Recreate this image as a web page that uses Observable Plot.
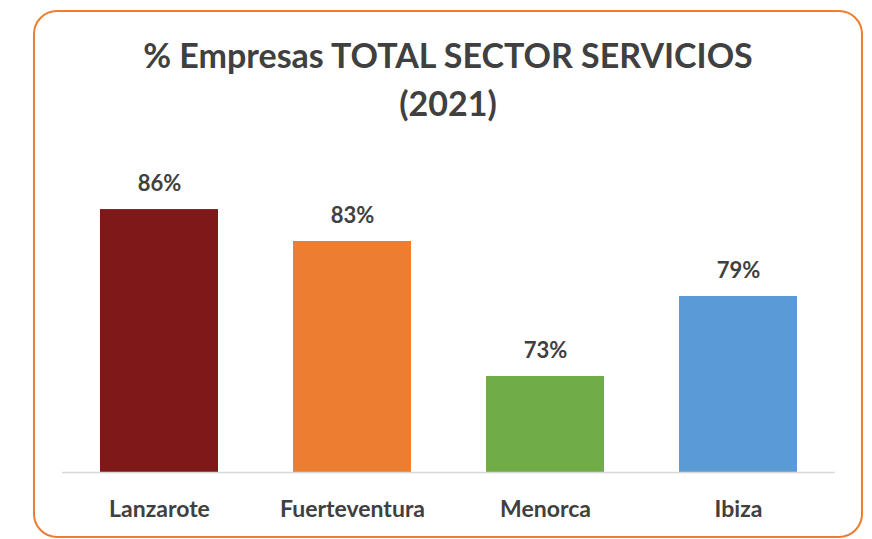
<!DOCTYPE html>
<html>
<head>
<meta charset="utf-8">
<script src="https://cdn.jsdelivr.net/npm/d3@7"></script>
<script src="https://cdn.jsdelivr.net/npm/@observablehq/plot@0.6"></script>
<style>
  html, body { margin: 0; padding: 0; background: #fff; }
  #wrap { position: relative; width: 872px; height: 539px; overflow: hidden; font-family: Lato, "Open Sans", sans-serif; }
  #frame { position: absolute; left: 33px; top: 10px; width: 826px; height: 524px; border: 2px solid #ED7D31; border-radius: 24px; }
  #title { position: absolute; left: 33px; width: 830px; top: 31px; text-align: center; font-weight: bold; font-size: 34px; line-height: 48px; color: #404040; }
  #chart { position: absolute; left: 0; top: 140px; }
</style>
</head>
<body>
<div id="wrap">
  <div id="frame"></div>
  <div id="title">% Empresas TOTAL SECTOR SERVICIOS<br>(2021)</div>
  <div id="chart"></div>
</div>
<script>
const islands = ["Lanzarote", "Fuerteventura", "Menorca", "Ibiza"];
const values = [86.0, 83.45, 72.67, 79.06];
const colors = ["#7F1818", "#ED7D31", "#70AD47", "#5B9BD5"];
const yMin = 65;
const yMax = 90;

const data = islands.map((island, i) => ({island, value: values[i]}));

const chart = Plot.plot({
  width: 872,
  height: 390,
  marginLeft: 62,
  marginRight: 37,
  marginTop: 19,
  marginBottom: 58,
  style: {fontFamily: "Lato, 'Open Sans', sans-serif", fontWeight: "bold", color: "#404040", background: "transparent"},
  x: {domain: islands, paddingInner: 0.39, paddingOuter: 0.195, axis: null},
  y: {domain: [yMin, yMax], clamp: true, axis: null},
  color: {domain: islands, range: colors},
  marks: [
    Plot.barY(data, {x: "island", y: "value", fill: "island"}),
    Plot.ruleY([yMin], {stroke: "#d9d9d9", strokeWidth: 1.5}),
    Plot.text(data, {x: "island", y: "value", text: d => Math.round(d.value) + "%", dy: -26, fontSize: 22, fill: "#404040"}),
    Plot.text(data, {x: "island", frameAnchor: "bottom", text: "island", dy: 44, fontSize: 23, fill: "#404040"})
  ]
});
document.getElementById("chart").appendChild(chart);
</script>
</body>
</html>
